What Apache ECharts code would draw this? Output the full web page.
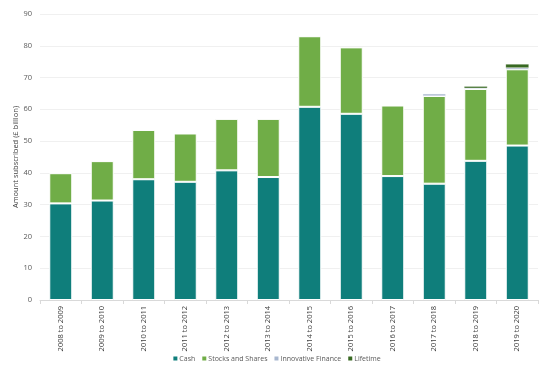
<!DOCTYPE html>
<html><head><meta charset="utf-8">
<script src="https://cdn.jsdelivr.net/npm/echarts@6/dist/echarts.min.js"></script>
<style>html,body{margin:0;padding:0;background:#fff}#c{width:554px;height:373px}</style>
</head><body><div id="c"></div>
<script>
const categories = ["2008 to 2009","2009 to 2010","2010 to 2011","2011 to 2012","2012 to 2013","2013 to 2014","2014 to 2015","2015 to 2016","2016 to 2017","2017 to 2018","2018 to 2019","2019 to 2020"];
const cash = [30.4, 31.3, 38.0, 37.2, 40.8, 38.7, 60.8, 58.6, 39.0, 36.6, 43.8, 48.6];
const stocksShares = [9.5, 12.4, 15.5, 15.2, 16.2, 18.3, 22.2, 20.9, 22.2, 27.6, 22.6, 24.0];
const innovativeFinance = [0, 0, 0, 0, 0, 0, 0, 0, 0, 0.7, 0.3, 0.5];
const lifetime = [0, 0, 0, 0, 0, 0, 0, 0, 0, 0, 0.5, 1.1];
const yTicks = {min: 0, max: 90, interval: 10};

const chart = echarts.init(document.getElementById('c'));
const font = '"Open Sans", "Noto Sans", sans-serif';
function s(name, data, color, bw) {
  return {name, type: 'bar', stack: 'total', data, barWidth: 23,
    itemStyle: {color, borderColor: '#ffffff', borderWidth: bw}};
}
chart.setOption({
  animation: false,
  textStyle: {fontFamily: font},
  grid: {left: 40, right: 16, top: 14, bottom: 73, outerBoundsMode: 'none', containLabel: false},
  xAxis: {type: 'category', data: categories,
    axisLine: {lineStyle: {color: '#d9d9d9'}},
    axisTick: {show: true, lineStyle: {color: '#d9d9d9'}, length: 4},
    axisLabel: {rotate: 90, fontSize: 7.5, color: '#404040', margin: 6, fontFamily: font}},
  yAxis: {type: 'value', min: yTicks.min, max: yTicks.max, interval: yTicks.interval,
    name: 'Amount subscribed (£ billion)', nameLocation: 'middle', nameGap: 20, nameMoveOverlap: false,
    nameTextStyle: {fontSize: 7.5, color: '#404040', fontFamily: font},
    axisLine: {show: false}, axisTick: {show: false},
    axisLabel: {fontSize: 7.5, color: '#595959', margin: 8, fontFamily: font},
    splitLine: {lineStyle: {color: '#f0f0f0'}}},
  legend: {top: 350, left: 'center', itemWidth: 4, itemHeight: 4, itemGap: 7,
    icon: 'rect', itemStyle: {borderWidth: 0},
    textStyle: {fontSize: 7, color: '#595959', fontFamily: font, padding: [0,0,0,-3]}},
  series: [
    s('Cash', cash, '#0f7e7b', 1),
    s('Stocks and Shares', stocksShares, '#70ad47', 1),
    s('Innovative Finance', innovativeFinance, '#a8b7cf', 0.4),
    s('Lifetime', lifetime, '#386922', 0.2)
  ]
});
</script></body></html>
